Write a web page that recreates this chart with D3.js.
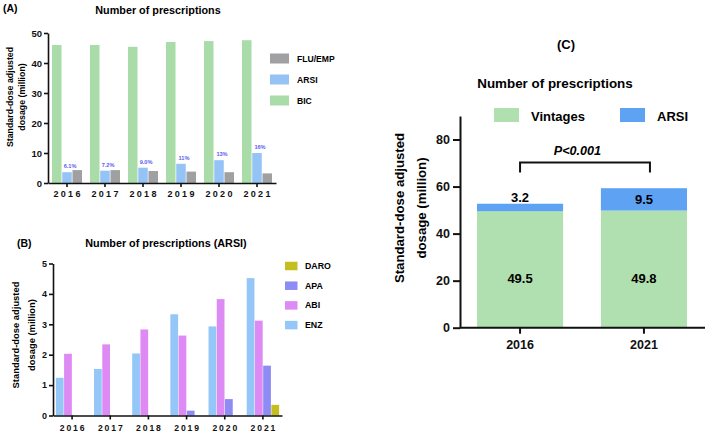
<!DOCTYPE html>
<html>
<head>
<meta charset="utf-8">
<script src="https://cdn.jsdelivr.net/npm/d3@7"></script>
<style>
  body { margin: 0; background: #fff; }
  svg { display: block; font-family: "Liberation Sans", Arial, sans-serif; font-weight: bold; }
  .axis path, .axis line { stroke: #111; }
  .axis text { fill: #111; font-weight: bold; }
</style>
</head>
<body>
<svg width="709" height="435"></svg>
<script>
"use strict"

// panel A
const yearsA = ["2016", "2017", "2018", "2019", "2020", "2021"]
const bicA = [46.0, 46.0, 45.4, 47.0, 47.3, 47.6]
const arsiA = [3.6, 4.1, 5.1, 6.4, 7.6, 10.0]
const fluEmpA = [4.3, 4.3, 4.0, 3.8, 3.6, 3.2]
const arsiShareA = ["6.1%", "7.2%", "9.0%", "11%", "13%", "16%"]

// panel B
const yearsB = ["2016", "2017", "2018", "2019", "2020", "2021"]
const enzB = [1.24, 1.53, 2.04, 3.33, 2.93, 4.52]
const abiB = [2.03, 2.34, 2.83, 2.63, 3.83, 3.12]
const apaB = [0, 0, 0, 0.16, 0.54, 1.64]
const daroB = [0, 0, 0, 0, 0, 0.35]

// panel C
const yearsC = ["2016", "2021"]
const vintagesC = [49.5, 49.8]
const arsiC = [3.2, 9.5]
const pLabel = "P<0.001"

let svg = d3.select("svg")

function styleAxis(g, width, size) {
    g.attr("class", "axis")
    g.select(".domain").attr("stroke-width", width)
    g.selectAll(".tick line").attr("stroke-width", width)
    g.selectAll(".tick text").style("font-size", size + "px")
}

function yLabel(cx, cy, gap, size, lines) {
    lines.forEach((t, i) => {
	svg.append("text")
	    .attr("transform", "translate(" + (cx + i * gap) + "," + cy + ") rotate(-90)")
	    .attr("text-anchor", "middle")
	    .attr("dy", "0.35em")
	    .style("font-size", size + "px")
	    .text(t)
    })
}

function legend(x, y0, step, w, h, tx, size, items) {
    items.forEach((it, i) => {
	let cy = y0 + i * step
	svg.append("rect").attr("x", x).attr("y", cy - h / 2)
	    .attr("width", w).attr("height", h).attr("fill", it.color)
	svg.append("text").attr("x", tx).attr("y", cy).attr("dy", "0.35em")
	    .style("font-size", size + "px").text(it.name)
    })
}

/* ---------- (A) ---------- */
{
    let x0 = d3.scaleBand().domain(yearsA).range([48, 276])
	.paddingInner(0.21).paddingOuter(0.105)
    let keys = ["BIC", "ARSI", "FLU/EMP"]
    let colors = {"BIC": "#a9dca8", "ARSI": "#95c3f6", "FLU/EMP": "#a0a0a2"}
    let x1 = d3.scaleBand().domain(keys).range([0, x0.bandwidth()]).paddingInner(0.07)
    let y = d3.scaleLinear().domain([0, 50]).range([183, 33])
    let rows = yearsA.map((yr, i) => ({year: yr, BIC: bicA[i], ARSI: arsiA[i], "FLU/EMP": fluEmpA[i], pct: arsiShareA[i]}))

    let g = svg.append("g")
    g.selectAll("g.grp").data(rows).enter().append("g")
	.attr("transform", d => "translate(" + x0(d.year) + ",0)")
	.selectAll("rect").data(d => keys.map(k => ({k: k, v: d[k]}))).enter()
	.append("rect")
	.attr("x", d => x1(d.k))
	.attr("y", d => y(d.v))
	.attr("width", x1.bandwidth())
	.attr("height", d => y(0) - y(d.v))
	.attr("fill", d => colors[d.k])

    g.selectAll("text.pct").data(rows).enter().append("text")
	.attr("x", d => x0(d.year) + x1("ARSI") + x1.bandwidth() / 2 + 3)
	.attr("y", d => y(d.ARSI) - 4)
	.attr("text-anchor", "middle")
	.style("font-size", "5.6px").attr("fill", "#5d5df0")
	.text(d => d.pct)

    svg.append("g").attr("transform", "translate(48,0)")
	.call(d3.axisLeft(y).ticks(5).tickSize(4).tickSizeOuter(0).tickPadding(2))
	.call(g => styleAxis(g, 1.6, 9.5))
    svg.append("g").attr("transform", "translate(0,183)")
	.call(d3.axisBottom(x0).tickSize(4).tickSizeOuter(0).tickPadding(4))
	.call(g => styleAxis(g, 1.6, 9))
	.selectAll(".tick text").style("letter-spacing", "2.3px").attr("dx", "1.1px")

    svg.append("text").attr("x", 3).attr("y", 12).style("font-size", "10.5px").text("(A)")
    svg.append("text").attr("x", 158).attr("y", 10).attr("dy", "0.35em")
	.attr("text-anchor", "middle").style("font-size", "10.8px").text("Number of prescriptions")
    yLabel(10, 97, 12, 8.8, ["Standard-dose adjusted", "dosage (million)"])
    legend(270, 58.5, 21, 19, 10, 297, 8.6, [
	{name: "FLU/EMP", color: colors["FLU/EMP"]},
	{name: "ARSI", color: colors["ARSI"]},
	{name: "BIC", color: colors["BIC"]}])
}

/* ---------- (B) ---------- */
{
    let x0 = d3.scaleBand().domain(yearsB).range([53, 282])
	.paddingInner(0.15).paddingOuter(0.075)
    let keys = ["ENZ", "ABI", "APA", "DARO"]
    let colors = {"ENZ": "#94c6f8", "ABI": "#dd8af4", "APA": "#8d8cf4", "DARO": "#c2bf1e"}
    let x1 = d3.scaleBand().domain(keys).range([0, x0.bandwidth()]).paddingInner(0.06)
    let y = d3.scaleLinear().domain([0, 5]).range([415.5, 263.5])
    let rows = yearsB.map((yr, i) => ({year: yr, ENZ: enzB[i], ABI: abiB[i], APA: apaB[i], DARO: daroB[i]}))

    svg.append("g").selectAll("g").data(rows).enter().append("g")
	.attr("transform", d => "translate(" + x0(d.year) + ",0)")
	.selectAll("rect").data(d => keys.map(k => ({k: k, v: d[k]}))).enter()
	.append("rect")
	.attr("x", d => x1(d.k))
	.attr("y", d => y(d.v))
	.attr("width", x1.bandwidth())
	.attr("height", d => y(0) - y(d.v))
	.attr("fill", d => colors[d.k])

    svg.append("g").attr("transform", "translate(53,0)")
	.call(d3.axisLeft(y).ticks(5).tickSize(4).tickSizeOuter(0).tickPadding(2))
	.call(g => styleAxis(g, 1.6, 9))
    svg.append("g").attr("transform", "translate(0,415.5)")
	.call(d3.axisBottom(x0).tickSize(4).tickSizeOuter(0).tickPadding(5))
	.call(g => styleAxis(g, 1.6, 8.6))
	.selectAll(".tick text").style("letter-spacing", "1.9px").attr("dx", "1px")

    svg.append("text").attr("x", 17).attr("y", 247).style("font-size", "10.5px").text("(B)")
    svg.append("text").attr("x", 166).attr("y", 243).attr("dy", "0.35em")
	.attr("text-anchor", "middle").style("font-size", "10.8px").text("Number of prescriptions (ARSI)")
    yLabel(16, 335, 16, 9.4, ["Standard-dose adjusted", "dosage (million)"])
    legend(285, 266, 19.7, 12.5, 8.5, 305, 8.8, [
	{name: "DARO", color: colors["DARO"]},
	{name: "APA", color: colors["APA"]},
	{name: "ABI", color: colors["ABI"]},
	{name: "ENZ", color: colors["ENZ"]}])
}

/* ---------- (C) ---------- */
{
    let x = d3.scaleBand().domain(yearsC).range([477, 687]).paddingInner(0.305).paddingOuter(0)
    let y = d3.scaleLinear().domain([0, 90]).range([327.7, 116])
    let green = "#b0dfb0", blue = "#5ea2f4"
    let rows = yearsC.map((yr, i) => ({year: yr, vin: vintagesC[i], arsi: arsiC[i]}))
    let cx = d => x(d.year) + x.bandwidth() / 2

    let g = svg.append("g")
    g.selectAll("rect.vin").data(rows).enter().append("rect")
	.attr("x", d => x(d.year)).attr("width", x.bandwidth())
	.attr("y", d => y(d.vin)).attr("height", d => y(0) - y(d.vin))
	.attr("fill", green)
    g.selectAll("rect.arsi").data(rows).enter().append("rect")
	.attr("x", d => x(d.year)).attr("width", x.bandwidth())
	.attr("y", d => y(d.vin + d.arsi)).attr("height", d => y(d.vin) - y(d.vin + d.arsi))
	.attr("fill", blue)

    g.selectAll("text.vin").data(rows).enter().append("text")
	.attr("x", cx).attr("y", d => y(d.vin / 2) + 9).attr("dy", "0.35em")
	.attr("text-anchor", "middle").style("font-size", "13px").text(d => d.vin.toFixed(1))
    g.selectAll("text.arsi").data(rows).enter().append("text")
	.attr("x", cx)
	.attr("y", d => {
	    let h = y(d.vin) - y(d.vin + d.arsi)
	    return h < 15 ? y(d.vin + d.arsi) - 6.5 : y(d.vin + d.arsi / 2)
	})
	.attr("dy", "0.35em")
	.attr("text-anchor", "middle").style("font-size", "13px").text(d => d.arsi.toFixed(1))

    svg.append("g").attr("transform", "translate(460,0)")
	.call(d3.axisLeft(y).tickValues([0, 20, 40, 60, 80]).tickSize(7).tickSizeOuter(0).tickPadding(3))
	.call(g => styleAxis(g, 2, 12.5))
    let xa = svg.append("g").attr("transform", "translate(0,327.7)")
	.call(d3.axisBottom(x).tickSize(6).tickSizeOuter(0).tickPadding(6))
	.call(g => styleAxis(g, 2, 12.5))
    xa.select(".domain").attr("d", "M460,0H705")

    // significance bracket
    let bx0 = cx(rows[0]), bx1 = cx(rows[1]) + 6
    svg.append("path")
	.attr("d", "M" + bx0 + ",172.5V162.5H" + bx1 + "V172.5")
	.attr("fill", "none").attr("stroke", "#111").attr("stroke-width", 2)
    svg.append("text").attr("x", 577.5).attr("y", 151).attr("dy", "0.35em")
	.attr("text-anchor", "middle").style("font-size", "12.6px").style("font-style", "italic")
	.text(pLabel)

    svg.append("text").attr("x", 557).attr("y", 49).style("font-size", "13px").text("(C)")
    svg.append("text").attr("x", 555).attr("y", 83).attr("dy", "0.35em")
	.attr("text-anchor", "middle").style("font-size", "13.4px").text("Number of prescriptions")
    yLabel(399, 208, 22, 13.2, ["Standard-dose adjusted", "dosage (million)"])

    let leg = [{name: "Vintages", color: green, x: 494}, {name: "ARSI", color: blue, x: 620}]
    leg.forEach(it => {
	svg.append("rect").attr("x", it.x).attr("y", 108).attr("width", 25).attr("height", 14).attr("fill", it.color)
	svg.append("text").attr("x", it.x + 37).attr("y", 116).attr("dy", "0.35em")
	    .style("font-size", "13px").text(it.name)
    })
}
</script>
</body>
</html>
